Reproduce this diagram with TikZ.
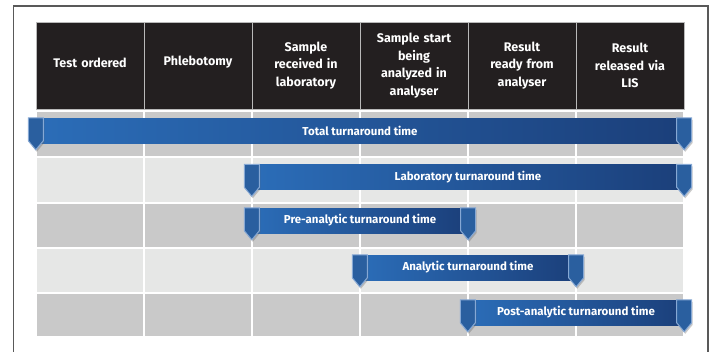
\documentclass[tikz,border=0pt]{standalone}
\usepackage{fontspec}
\setmainfont{Fira Sans}
\usetikzlibrary{positioning}

\definecolor{headfill}{HTML}{231F20}
\definecolor{rowdark}{HTML}{C9C9C9}
\definecolor{rowlight}{HTML}{E6E7E6}
\definecolor{barlight}{HTML}{2B6DB8}
\definecolor{bardark}{HTML}{1B3F7A}
\definecolor{tabfill}{HTML}{2A5F9F}
\definecolor{tabedge}{HTML}{86A8D4}

\tikzset{
  headcell/.style={rectangle,fill=headfill,draw=gray!55,line width=0.6pt,
    minimum width=108pt,minimum height=87pt,inner sep=2pt,text=white,
    text width=98pt,align=center,font=\bfseries\fontsize{12.5}{17.5}\selectfont},
  cell/.style={rectangle,minimum width=106pt,inner sep=0pt},
  tatbar/.style={rectangle,minimum height=25pt,inner sep=0pt,
    left color=barlight,right color=bardark,text=white,
    font=\bfseries\fontsize{11.5}{13}\selectfont},
  frame/.style={draw=black!65,line width=1.2pt},
  pics/marker/.style={code={
    \fill[black!60,opacity=0.35] (-6,2) -- (8.5,2) -- (8.5,25) -- (1,34) -- (-6,25) -- cycle;
    \draw[fill=tabfill,draw=tabedge,line width=1pt]
      (-7.5,0) -- (7.5,0) -- (7.5,23) -- (0,32) -- (-7.5,23) -- cycle;
  }}
}

\begin{document}
\begin{tikzpicture}[x=1pt,y=-1pt]
  \useasboundingbox (0,0) rectangle (712,351);
  \draw[frame] (13.5,360) -- (13.5,6) -- (708,6) -- (708,360);

  % header row
  \foreach \i/\txt in {1/Test ordered\vspace{5pt},2/Phlebotomy\vspace{7pt},
      3/Sample\\received in\\laboratory,
      4/Sample start\\being\\analyzed in\\analyser,5/Result\\ready from\\analyser,
      6/Result\\released via\\LIS}
    \node[headcell] (h\i) at (-18+108*\i,65.5) {\txt};

  % grid of shaded rows
  \foreach \r/\yc/\rh/\col in {1/133.8/44.5/rowdark,2/179.8/43.5/rowlight,3/225/43/rowdark,
      4/270/43/rowlight,5/314.8/42.5/rowdark}
    \foreach \c in {1,...,6}
      \node[cell,fill=\col,minimum height=\rh pt] (c\r\c) at (-18+108*\c,\yc) {};

  % turnaround bars
  \foreach \nm/\xc/\bw/\yc/\txt in {tot/360/648/130.5/Total turnaround time,
      lab/468/432/177/Laboratory turnaround time,
      pre/360/216/220.5/Pre-analytic turnaround time,
      ana/468/216/267.5/Analytic turnaround time,
      post/576/216/312.5/Post-analytic turnaround time}
  {
    \node[tatbar,minimum width=\bw pt] (\nm) at (\xc,\yc) {\txt};
    \pic at (\nm.north west) {marker};
    \pic at (\nm.north east) {marker};
  }
\end{tikzpicture}
\end{document}
